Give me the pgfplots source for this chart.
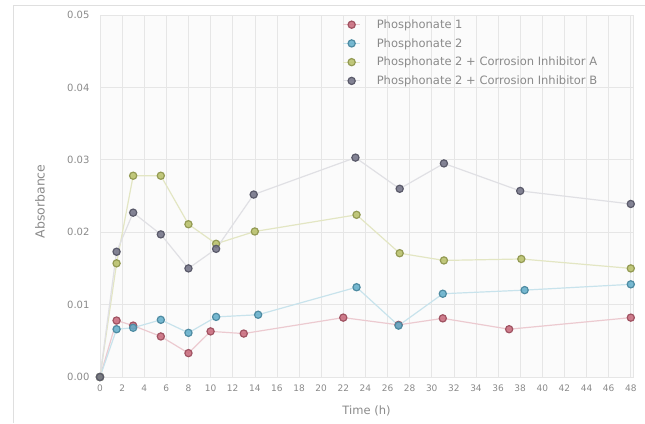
\documentclass[border=0pt]{standalone}
\usepackage{pgfplots}
\pgfplotsset{compat=1.18}
\usepackage{fontspec}
\setmainfont{DejaVu Sans}
\definecolor{cred}{HTML}{C8687A}
\definecolor{cblue}{HTML}{62AECA}
\definecolor{cyel}{HTML}{B8C068}
\definecolor{cgray}{HTML}{707084}
\definecolor{txt}{HTML}{8A8A8A}
\definecolor{gridc}{HTML}{E6E6E6}
\begin{document}
\begin{tikzpicture}
\begin{axis}[
  scale only axis, width=533pt, height=362pt,
  at={(0,0)}, anchor=south west,
  xmin=0, xmax=48.2, ymin=0, ymax=0.05,
  xtick={0,2,...,48}, ytick={0,0.01,...,0.05},
  /pgf/number format/assume math mode=true,
  scaled y ticks=false,
  xticklabel style={font=\fontsize{9}{10}\selectfont, text=txt, yshift=-4pt},
  yticklabel style={font=\fontsize{10}{11}\selectfont, text=txt, xshift=-7pt,
    /pgf/number format/fixed,/pgf/number format/fixed zerofill,/pgf/number format/precision=2},
  xlabel={Time (h)}, ylabel={Absorbance},
  label style={font=\fontsize{11.5}{13}\selectfont, text=txt},
  xlabel style={at={(axis description cs:0.5,-0.094)}, anchor=center},
  ylabel style={at={(axis description cs:-0.1126,0.485)}, anchor=center, font=\fontsize{12.5}{14}\selectfont},
  grid=major, major grid style={gridc, line width=0.6pt},
  axis line style={gridc}, tick style={draw=none},
  axis background/.style={fill=gray!3},
  every axis plot/.append style={line width=1.2pt, mark=*, mark size=3.6pt},
  legend style={at={(0.449,0.999)}, anchor=north west, draw=none, fill=none,
    font=\fontsize{11.5}{13}\selectfont, text=txt, row sep=4.5pt,
    /tikz/every odd column/.append style={column sep=14pt}},
  legend cell align=left,
]
\addplot[cred!35, mark options={fill=cred, draw=cred!80!black, fill opacity=0.85}] coordinates {
(0,0) (1.5,0.0078) (3,0.0071) (5.5,0.0056) (8,0.0033) (10,0.0063) (13,0.0060) (22,0.0082) (27,0.0072) (31,0.0081) (37,0.0066) (48,0.0082)};
\addlegendentry{Phosphonate 1}
\addplot[cblue!35, mark options={fill=cblue, draw=cblue!80!black, fill opacity=0.85}] coordinates {
(0,0) (1.5,0.0066) (3,0.0068) (5.5,0.0079) (8,0.0061) (10.5,0.0083) (14.3,0.0086) (23.2,0.0124) (27,0.0071) (31,0.0115) (38.4,0.0120) (48,0.0128)};
\addlegendentry{Phosphonate 2}
\addplot[cyel!40, mark options={fill=cyel, draw=cyel!80!black, fill opacity=0.85}] coordinates {
(0,0) (1.5,0.0157) (3,0.0278) (5.5,0.0278) (8,0.0211) (10.5,0.0184) (14,0.0201) (23.2,0.0224) (27.1,0.0171) (31.1,0.0161) (38.1,0.0163) (48,0.0150)};
\addlegendentry{Phosphonate 2 + Corrosion Inhibitor A}
\addplot[cgray!22, mark options={fill=cgray, draw=cgray!80!black, fill opacity=0.85}] coordinates {
(0,0) (1.5,0.0173) (3,0.0227) (5.5,0.0197) (8,0.0150) (10.5,0.0177) (13.9,0.0252) (23.1,0.0303) (27.1,0.0260) (31.1,0.0295) (38,0.0257) (48,0.0239)};
\addlegendentry{Phosphonate 2 + Corrosion Inhibitor B}
\end{axis}
\draw[gray!25, line width=0.8pt] (-87pt,-46pt) -- (-87pt,372pt) -- (545pt,372pt);
\pgfresetboundingbox
\path[use as bounding box] (-100pt,-46pt) rectangle (545pt,377pt);
\end{tikzpicture}
\end{document}
